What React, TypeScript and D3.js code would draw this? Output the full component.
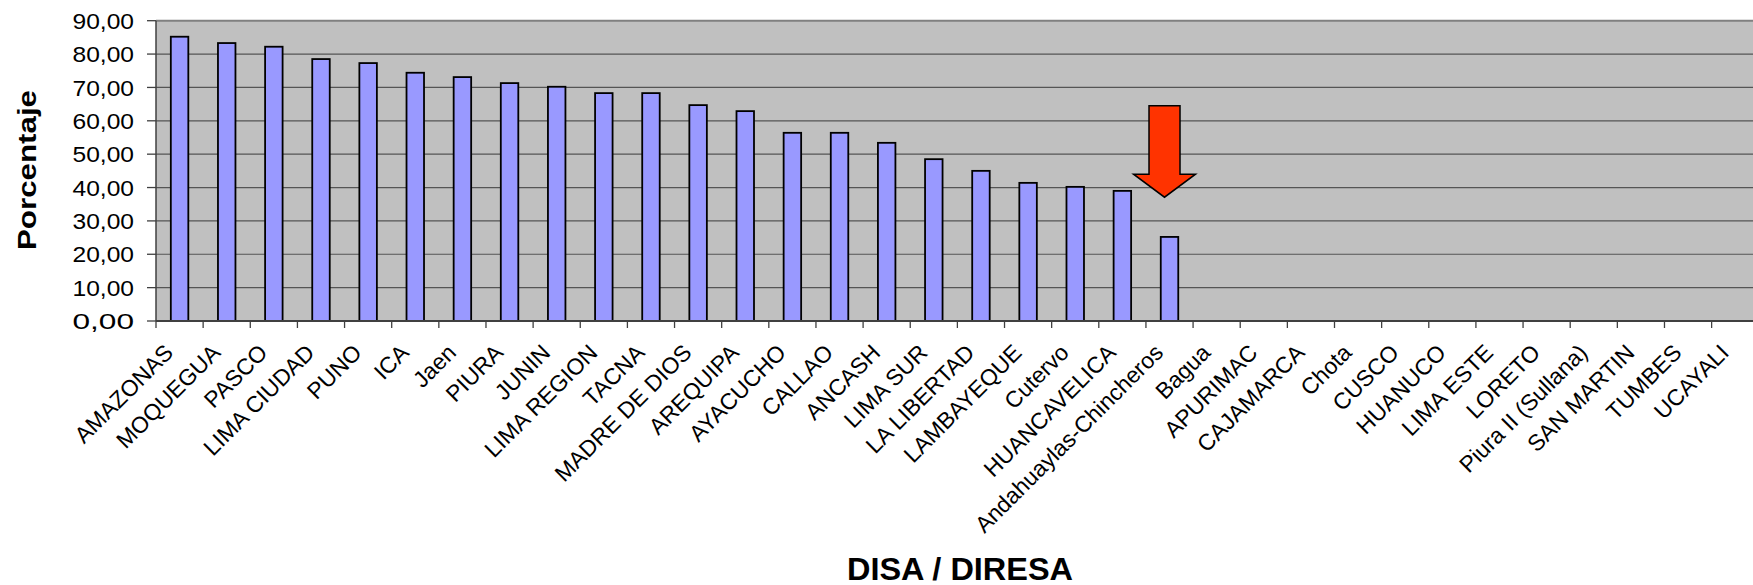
import React from "react";
import * as d3 from "d3";

const categories: string[] = [
  "AMAZONAS", "MOQUEGUA", "PASCO", "LIMA CIUDAD", "PUNO", "ICA", "Jaen", "PIURA",
  "JUNIN", "LIMA REGION", "TACNA", "MADRE DE DIOS", "AREQUIPA", "AYACUCHO", "CALLAO",
  "ANCASH", "LIMA SUR", "LA LIBERTAD", "LAMBAYEQUE", "Cutervo", "HUANCAVELICA",
  "Andahuaylas-Chincheros", "Bagua", "APURIMAC", "CAJAMARCA", "Chota", "CUSCO",
  "HUANUCO", "LIMA ESTE", "LORETO", "Piura II (Sullana)", "SAN MARTIN", "TUMBES", "UCAYALI",
];

// Values only for the first 22 DISA/DIRESA; the rest have no data
const values: number[] = [
  85.2, 83.3, 82.2, 78.5, 77.3, 74.4, 73.1, 71.3,
  70.2, 68.3, 68.3, 64.7, 62.9, 56.4, 56.4,
  53.4, 48.5, 45.0, 41.4, 40.2, 39.0,
  25.2,
];

const yTicks: number[] = [0, 10, 20, 30, 40, 50, 60, 70, 80, 90];

// Annotation arrow (data units): points at "Andahuaylas-Chincheros"
const arrowTarget = "Andahuaylas-Chincheros";
const arrowTop = 64.5;
const arrowNeck = 44.0;
const arrowTip = 37.1;

const W = 1753;
const H = 585;
const left = 156;
const step = 47.14;
const bottom = 321;
const top = 20.7;

const fmt = d3.formatLocale({ decimal: ",", thousands: ".", grouping: [3], currency: ["", ""] }).format(".2f");
const FONT = "'Liberation Sans', Arial, Helvetica, sans-serif";

export default function App() {
  const x = d3.scaleBand<string>().domain(categories).range([left, left + step * categories.length]).padding(0);
  const y = d3.scaleLinear().domain([0, 90]).range([bottom, top]);
  const bw = 17.5;
  const plotRight = left + step * categories.length;

  const ac = (x(arrowTarget) as number) + x.bandwidth() / 2 - 5;
  const shaftHalf = 15.5;
  const headHalf = 31;
  const arrowPts: [number, number][] = [
    [ac - shaftHalf, y(arrowTop)],
    [ac + shaftHalf, y(arrowTop)],
    [ac + shaftHalf, y(arrowNeck)],
    [ac + headHalf, y(arrowNeck)],
    [ac, y(arrowTip)],
    [ac - headHalf, y(arrowNeck)],
    [ac - shaftHalf, y(arrowNeck)],
  ];

  return (
    <div style={{ position: "absolute", left: 0, top: 0 }}>
      <svg width={W} height={H} style={{ display: "block", background: "#ffffff" }}>
        <rect x={left} y={top} width={plotRight - left} height={bottom - top} fill="#C0C0C0" />
        {yTicks.filter((t) => t > 0).map((t) => (
          <line key={"g" + t} x1={left} x2={plotRight} y1={y(t)} y2={y(t)}
            stroke={t === 90 ? "#808080" : "#555555"} strokeWidth={t === 90 ? 2 : 1.2} />
        ))}
        {values.map((v, i) => {
          const c = categories[i];
          const cx = (x(c) as number) + x.bandwidth() / 2;
          return (
            <rect key={c} x={cx - bw / 2} y={y(v)} width={bw} height={y(0) - y(v)}
              fill="#9999FF" stroke="#000000" strokeWidth={1.8} />
          );
        })}
        {/* y axis */}
        <line x1={left} x2={left} y1={top} y2={bottom} stroke="#404040" strokeWidth={1.5} />
        {yTicks.map((t) => (
          <g key={"yt" + t}>
            <line x1={left - 9} x2={left} y1={y(t)} y2={y(t)} stroke="#404040" strokeWidth={1.3} />
            <text x={134} y={y(t)} dy="0.36em" textAnchor="end" fontFamily={FONT} fontSize={22.5}
              textLength={61.5} lengthAdjust="spacingAndGlyphs" fill="#000">{fmt(t)}</text>
          </g>
        ))}
        {/* x axis */}
        <line x1={left} x2={plotRight} y1={bottom} y2={bottom} stroke="#404040" strokeWidth={1.8} />
        {categories.map((c, i) => (
          <line key={"xt" + i} x1={(x(c) as number)} x2={(x(c) as number)} y1={bottom} y2={bottom + 7}
            stroke="#404040" strokeWidth={1.3} />
        ))}
        {categories.map((c) => {
          const cx = (x(c) as number) + x.bandwidth() / 2;
          return (
            <text key={"xl" + c} transform={`translate(${cx - 5},${bottom + 33}) rotate(-45)`}
              textAnchor="end" fontFamily={FONT} fontSize={22.8} fill="#000">{c}</text>
          );
        })}
        {/* arrow */}
        <polygon points={arrowPts.map((p) => p.join(",")).join(" ")} fill="#FF3300" stroke="#000" strokeWidth={1.5} />
        {/* titles */}
        <text transform="translate(36,170) rotate(-90)" textAnchor="middle" fontFamily={FONT}
          fontWeight="bold" fontSize={26} textLength={160} lengthAdjust="spacingAndGlyphs">Porcentaje</text>
        <text x={960} y={580} textAnchor="middle" fontFamily={FONT} fontWeight="bold" fontSize={32}
          textLength={226} lengthAdjust="spacingAndGlyphs">DISA / DIRESA</text>
      </svg>
    </div>
  );
}
